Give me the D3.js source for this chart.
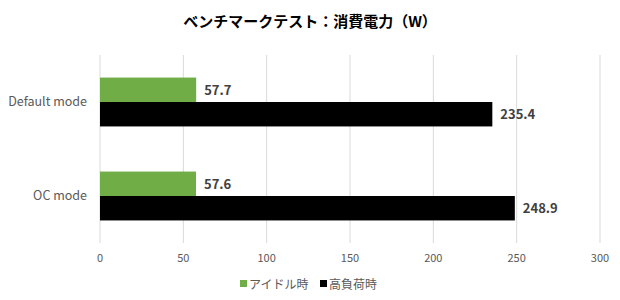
<!DOCTYPE html>
<html>
<head>
<meta charset="utf-8">
<script src="https://cdn.jsdelivr.net/npm/d3@7"></script>
<style>
  body { margin: 0; background: #fff; }
  text { font-family: "Noto Sans CJK JP", "Noto Sans", sans-serif; }
</style>
</head>
<body>
<div id="chart"></div>
<script>
// data
var categories = ["Default mode", "OC mode"];
var seriesNames = ["アイドル時", "高負荷時"];
var idleValues = [57.7, 57.6];
var loadValues = [235.4, 248.9];
var xTicks = [0, 50, 100, 150, 200, 250, 300];
var colors = ["#70ad47", "#000000"];

var width = 620, height = 300;
var margin = {top: 55, right: 20, bottom: 57, left: 100};

var svg = d3.select("#chart").append("svg")
    .attr("width", width)
    .attr("height", height);

// title
svg.append("text")
    .attr("x", 310)
    .attr("y", 27)
    .attr("text-anchor", "middle")
    .style("font-size", "15px")
    .style("font-weight", "bold")
    .style("fill", "#000")
    .text("ベンチマークテスト：消費電力（W）");

var x = d3.scaleLinear().domain([0, 300]).range([margin.left, width - margin.right]);
var y = d3.scaleBand().domain(categories).range([margin.top, height - margin.bottom]).paddingInner(0.48).paddingOuter(0.24);
var ySub = d3.scaleBand().domain([0, 1]).range([0, y.bandwidth()]);

// gridlines
svg.append("g")
    .selectAll("line")
    .data(xTicks)
    .enter().append("line")
    .attr("x1", function(d) { return x(d); })
    .attr("x2", function(d) { return x(d); })
    .attr("y1", margin.top)
    .attr("y2", height - margin.bottom)
    .attr("stroke", "#d9d9d9")
    .attr("stroke-width", 1);

// x tick labels
svg.append("g")
    .selectAll("text")
    .data(xTicks)
    .enter().append("text")
    .attr("x", function(d) { return x(d); })
    .attr("y", 262)
    .attr("text-anchor", "middle")
    .style("font-size", "11px")
    .style("fill", "#595959")
    .text(function(d) { return d; });

// category labels
svg.append("g")
    .selectAll("text")
    .data(categories)
    .enter().append("text")
    .attr("x", 87)
    .attr("y", function(d) { return y(d) + y.bandwidth() / 2 + 4; })
    .attr("text-anchor", "end")
    .style("font-size", "12.5px")
    .style("fill", "#595959")
    .text(function(d) { return d; });

var rows = [];
categories.forEach(function(c, i) {
    rows.push({cat: c, s: 0, v: idleValues[i]});
    rows.push({cat: c, s: 1, v: loadValues[i]});
});

// bars
svg.append("g")
    .selectAll("rect")
    .data(rows)
    .enter().append("rect")
    .attr("x", x(0))
    .attr("y", function(d) { return y(d.cat) + ySub(d.s); })
    .attr("width", function(d) { return x(d.v) - x(0); })
    .attr("height", ySub.bandwidth())
    .attr("fill", function(d) { return colors[d.s]; });

// value labels
svg.append("g")
    .selectAll("text")
    .data(rows)
    .enter().append("text")
    .attr("x", function(d) { return x(d.v) + 8; })
    .attr("y", function(d) { return y(d.cat) + ySub(d.s) + ySub.bandwidth() / 2 + 5; })
    .style("font-size", "13px")
    .style("font-weight", "bold")
    .style("fill", "#404040")
    .text(function(d) { return d.v.toFixed(1); });

// legend
var legend = svg.append("g");
var legendX = [240, 320];
seriesNames.forEach(function(name, i) {
    legend.append("rect")
        .attr("x", legendX[i])
        .attr("y", 280)
        .attr("width", 7)
        .attr("height", 7)
        .attr("fill", colors[i]);
    legend.append("text")
        .attr("x", legendX[i] + 9)
        .attr("y", 288.5)
        .style("font-size", "12px")
        .style("fill", "#595959")
        .text(name);
});
</script>
</body>
</html>
